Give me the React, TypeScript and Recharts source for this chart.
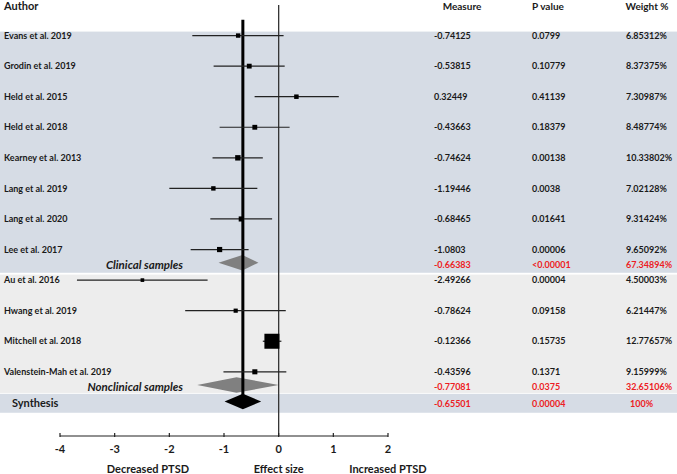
import React from "react";
import { ComposedChart, Scatter, XAxis, YAxis, ErrorBar, ReferenceLine, ReferenceArea } from "recharts";

const authors = [
  "Evans et al. 2019", "Grodin et al. 2019", "Held et al. 2015", "Held et al. 2018",
  "Kearney et al. 2013", "Lang et al. 2019", "Lang et al. 2020", "Lee et al. 2017",
  "Au et al. 2016", "Hwang et al. 2019", "Mitchell et al. 2018", "Valenstein-Mah et al. 2019",
];
const measures = [-0.74125, -0.53815, 0.32449, -0.43663, -0.74624, -1.19446, -0.68465, -1.0803, -2.49266, -0.78624, -0.12366, -0.43596];
const ciLow = [-1.58, -1.19, -0.44, -1.08, -1.21, -2.0, -1.25, -1.61, -3.69, -1.71, -0.29, -1.01];
const ciHigh = [0.09, 0.11, 1.1, 0.2, -0.29, -0.39, -0.12, -0.55, -1.3, 0.13, 0.05, 0.14];
const pValues = ["0.0799", "0.10779", "0.41139", "0.18379", "0.00138", "0.0038", "0.01641", "0.00006", "0.00004", "0.09158", "0.15735", "0.1371"];
const weights = [6.85312, 8.37375, 7.30987, 8.48774, 10.33802, 7.02128, 9.31424, 9.65092, 4.50003, 6.21447, 12.77657, 9.15999];
const studyRows = [1, 2, 3, 4, 5, 6, 7, 8, 9, 10, 11, 12];

const summaryLabels = ["Clinical samples", "Nonclinical samples", "Synthesis"];
const summaryMeasures = [-0.66383, -0.77081, -0.65501];
const summaryLow = [-1.1, -1.49, -0.99];
const summaryHigh = [-0.37, 0.0, -0.32];
const summaryP = ["<0.00001", "0.0375", "0.00004"];
const summaryWeights = ["67.34894%", "32.65106%", "100%"];
const summaryRows = [8.5, 12.5, 13.04];

const headers = ["Author", "Measure", "P value", "Weight %"];
const xTicks = [-4, -3, -2, -1, 0, 1, 2];
const axisLabels = ["Decreased PTSD", "Effect size", "Increased PTSD"];

const W = 677;
const H = 474;
const FONT = "Lato, 'Open Sans', sans-serif";
const INK = "#1a1a1a";
const RED = "#ed1c24";
const BLUE_BAND = "#d6dce5";
const GRAY_BAND = "#ededed";

const studyData = measures.map((m, i) => ({
  x: m,
  y: studyRows[i],
  err: [m - ciLow[i], ciHigh[i] - m],
  w: weights[i],
}));

type Row = { y: number; kind: "header" | "study" | "summary"; i: number };
const tableRows: Row[] = [
  { y: 0.05, kind: "header", i: 0 },
  ...studyRows.map((y, i) => ({ y, kind: "study" as const, i })),
  ...summaryRows.map((y, i) => ({ y, kind: "summary" as const, i })),
];
const findRow = (v: number) => tableRows.find((r) => Math.abs(r.y - v) < 1e-6);

const Square = (props: any) => {
  const { cx, cy, payload } = props;
  const s = payload.w > 12 ? 15 : 3.5 + (payload.w - 4) * 0.3;
  return <rect x={cx - s / 2} y={cy - s / 2} width={s} height={s} fill="#000" />;
};

const txt = (x: number, y: number, s: string, opts: any = {}) => (
  <text
    x={x}
    y={y}
    dy="0.35em"
    fontFamily={FONT}
    fontWeight="bold"
    fontSize={opts.size ?? 9}
    fill={opts.fill ?? INK}
    textAnchor={opts.anchor ?? "start"}
    fontStyle={opts.italic ? "italic" : "normal"}
  >
    {s}
  </text>
);

// left axis ticks draw the whole table row: author plus the three right-hand columns
const RowTick = (props: any) => {
  const { y, payload } = props;
  const r = findRow(payload.value);
  if (!r) return null;
  if (r.kind === "header")
    return (
      <g>
        {txt(4, y, headers[0], { size: 11 })}
        {txt(462, y, headers[1], { anchor: "middle", size: 10 })}
        {txt(548, y, headers[2], { anchor: "middle", size: 10 })}
        {txt(647, y, headers[3], { anchor: "middle", size: 10 })}
      </g>
    );
  if (r.kind === "study")
    return (
      <g>
        {txt(4, y, authors[r.i])}
        {txt(434, y, String(measures[r.i]))}
        {txt(532, y, pValues[r.i])}
        {txt(626, y, weights[r.i] + "%")}
      </g>
    );
  return (
    <g>
      {r.i === 2
        ? txt(12, y, summaryLabels[2], { size: 11 })
        : txt(183, y, summaryLabels[r.i], { anchor: "end", italic: true, size: 11.5 })}
      {txt(434, y, String(summaryMeasures[r.i]), { fill: RED })}
      {txt(532, y, summaryP[r.i], { fill: RED })}
      {txt(r.i === 2 ? 630 : 626, y, summaryWeights[r.i], { fill: RED })}
    </g>
  );
};

const XTick = (props: any) => {
  const { x, y, payload } = props;
  return (
    <g>
      <line x1={x} x2={x} y1={y - 3} y2={y + 1} stroke="#222" strokeWidth={1.2} />
      <text x={x} y={y + 17} textAnchor="middle" fontFamily={FONT} fontWeight="bold" fontSize={11} fill={INK}>
        {payload.value}
      </text>
    </g>
  );
};

const AxisTitle = (props: any) => {
  const { viewBox } = props;
  const fr = [0.268, 2 / 3, 1.0];
  return (
    <g>
      {axisLabels.map((s, i) => (
        <text key={s} x={viewBox.x + viewBox.width * fr[i]} y={473} textAnchor="middle" fontFamily={FONT} fontWeight="bold" fontSize={11} fill={INK}>
          {s}
        </text>
      ))}
    </g>
  );
};

const band = (fill: string) => (p: any) => <rect x={0} y={p.y} width={W} height={p.height} fill={fill} />;

const diamond = (i: number, fill: string) => (p: any) => {
  const f = (summaryMeasures[i] - summaryLow[i]) / (summaryHigh[i] - summaryLow[i]);
  const px = p.x + p.width * f;
  const my = p.y + p.height / 2;
  return <polygon points={`${p.x},${my} ${px},${p.y} ${p.x + p.width},${my} ${px},${p.y + p.height}`} fill={fill} />;
};

export default function App() {
  const rowTicks = tableRows.map((r) => r.y);
  return (
    <div style={{ position: "absolute", left: 0, top: 0 }}>
      <ComposedChart width={W} height={H} margin={{ top: 5, right: 289, bottom: 0, left: 0 }}>
        <XAxis
          type="number"
          dataKey="x"
          domain={[-4, 2]}
          ticks={xTicks}
          allowDataOverflow
          height={38}
          tickSize={0}
          tickMargin={0}
          tickLine={false}
          axisLine={{ stroke: "#222", strokeWidth: 1.2 }}
          tick={<XTick />}
          interval={0}
          label={{ content: <AxisTitle /> } as any}
        />
        <YAxis
          yAxisId="l"
          type="number"
          dataKey="y"
          domain={[0, 14.1]}
          reversed
          ticks={rowTicks}
          interval={0}
          width={60}
          axisLine={false}
          tickLine={false}
          tick={<RowTick />}
        />
        <ReferenceArea yAxisId="l" x1={-4} x2={2} y1={0.87} y2={8.76} shape={band(BLUE_BAND)} ifOverflow="visible" />
        <ReferenceArea yAxisId="l" x1={-4} x2={2} y1={8.82} y2={12.69} shape={band(GRAY_BAND)} ifOverflow="visible" />
        <ReferenceArea yAxisId="l" x1={-4} x2={2} y1={12.72} y2={13.34} shape={band(BLUE_BAND)} ifOverflow="visible" />
        {summaryRows.map((r, i) => (
          <ReferenceArea
            key={i}
            yAxisId="l"
            x1={summaryLow[i]}
            x2={summaryHigh[i]}
            y1={r - 0.07 - 0.255}
            y2={r - 0.07 + 0.255}
            shape={diamond(i, i === 2 ? "#000" : "#808080")}
            ifOverflow="visible"
          />
        ))}
        <ReferenceLine yAxisId="l" x={0} stroke="#333" strokeWidth={1.3} />
        <ReferenceLine
          yAxisId="l"
          segment={[
            { x: summaryMeasures[2], y: 0.48 },
            { x: summaryMeasures[2], y: 12.8 },
          ]}
          stroke="#000"
          strokeWidth={3}
        />
        <Scatter yAxisId="l" data={studyData} shape={<Square />} isAnimationActive={false}>
          <ErrorBar dataKey="err" direction="x" width={0} stroke="#222" strokeWidth={1.2} />
        </Scatter>
      </ComposedChart>
    </div>
  );
}
